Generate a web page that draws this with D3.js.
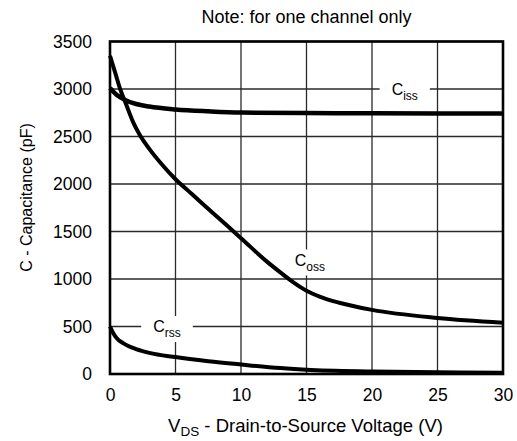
<!DOCTYPE html>
<html><head><meta charset="utf-8">
<script src="https://cdn.jsdelivr.net/npm/d3@7"></script>
<style>body{margin:0;background:#fff}svg{display:block}text{font-family:"Liberation Sans",Arial,sans-serif;fill:#000}</style>
</head><body><svg id="c" width="517" height="441"></svg>
<script>
const xTicks = [0, 5, 10, 15, 20, 25, 30];
const yTicks = [0, 500, 1000, 1500, 2000, 2500, 3000, 3500];
const cissV = [0, 0.5, 1.15, 2, 3, 5, 7.5, 10, 15, 20, 30];
const cissC = [3010, 2940, 2885, 2842, 2815, 2785, 2765, 2752, 2747, 2745, 2742];
const cossV = [0, 0.4, 0.8, 1.2, 1.8, 2.3, 3, 4, 5, 6, 7, 8.5, 10, 12, 13, 14, 15, 16, 17.5, 20, 25, 30];
const cossC = [3350, 3170, 2990, 2850, 2640, 2510, 2370, 2200, 2050, 1925, 1800, 1615, 1430, 1180, 1070, 965, 877, 815, 750, 675, 590, 540];
const crssV = [0, 0.25, 0.5, 1, 2, 3, 5, 7.5, 10, 13, 15, 20, 25, 30];
const crssC = [500, 430, 380, 325, 262, 222, 178, 135, 100, 62, 44, 26, 18, 12];
const labels = [
  {main: "C", sub: "iss", v: 21.5, c: 3000},
  {main: "C", sub: "oss", v: 14.1, c: 1200},
  {main: "C", sub: "rss", v: 3.3, c: 500}
];

const svg = d3.select("#c");
const L = 110, R = 503, T = 41.5, B = 374;
const x = d3.scaleLinear().domain([0, 30]).range([L, R]);
const y = d3.scaleLinear().domain([0, 3500]).range([B, T]);

const g = svg.append("g");
g.selectAll(".vg").data(xTicks).join("line")
  .attr("x1", d => x(d)).attr("x2", d => x(d)).attr("y1", T).attr("y2", B)
  .attr("stroke", "#2a2a2a").attr("stroke-width", 1.3);
g.selectAll(".hg").data(yTicks).join("line")
  .attr("x1", L).attr("x2", R).attr("y1", d => y(d)).attr("y2", d => y(d))
  .attr("stroke", "#2a2a2a").attr("stroke-width", 1.3);

const lab = svg.append("g");
const boxes = [];
labels.forEach(l => {
  const t = lab.append("text").attr("x", x(l.v)).attr("y", y(l.c) + 5.5)
    .attr("font-size", 16).attr("text-anchor", "start");
  t.append("tspan").text(l.main);
  t.append("tspan").attr("font-size", 12).attr("dy", 5).text(l.sub);
  boxes.push(t);
});
boxes.forEach(t => {
  const bb = t.node().getBBox();
  lab.insert("rect", "text").attr("x", bb.x - 12).attr("y", bb.y - 2)
    .attr("width", bb.width + 24).attr("height", bb.height + 4).attr("fill", "#fff");
});

svg.append("rect").attr("x", L).attr("y", T).attr("width", R - L).attr("height", B - T)
  .attr("fill", "none").attr("stroke", "#000").attr("stroke-width", 2.6);

const line = d3.line().x(d => x(d[0])).y(d => y(d[1])).curve(d3.curveMonotoneX);
[[cissV, cissC, 4.5], [cossV, cossC, 4], [crssV, crssC, 4]].forEach(([v, c, w]) => {
  svg.append("path").datum(v.map((d, i) => [d, c[i]])).attr("d", line)
    .attr("fill", "none").attr("stroke", "#000").attr("stroke-width", w)
    .attr("stroke-linejoin", "round");
});

const fmt = d3.format("d");
const xa = svg.append("g").attr("transform", `translate(0,${B})`)
  .call(d3.axisBottom(x).tickValues(xTicks).tickFormat(fmt).tickSize(0).tickPadding(15));
xa.select(".domain").remove();
xa.selectAll("text").attr("font-size", 17.5).style("font-family", "Liberation Sans, Arial, sans-serif");
const ya = svg.append("g").attr("transform", `translate(${L},0)`)
  .call(d3.axisLeft(y).tickValues(yTicks).tickFormat(fmt).tickSize(0).tickPadding(18));
ya.select(".domain").remove();
ya.selectAll("text").attr("font-size", 17.5).style("font-family", "Liberation Sans, Arial, sans-serif");

svg.append("text").attr("x", 306.5).attr("y", 23).attr("text-anchor", "middle")
  .attr("font-size", 18).text("Note: for one channel only");
const xl = svg.append("text").attr("x", 305.5).attr("y", 432).attr("text-anchor", "middle").attr("font-size", 18.5);
xl.append("tspan").text("V");
xl.append("tspan").attr("font-size", 13.5).attr("dy", 4).text("DS");
xl.append("tspan").attr("dy", -4).text(" - Drain-to-Source Voltage (V)");
svg.append("text").attr("transform", "translate(32,197.5) rotate(-90)").attr("text-anchor", "middle")
  .attr("font-size", 16).text("C - Capacitance (pF)");
</script></body></html>
